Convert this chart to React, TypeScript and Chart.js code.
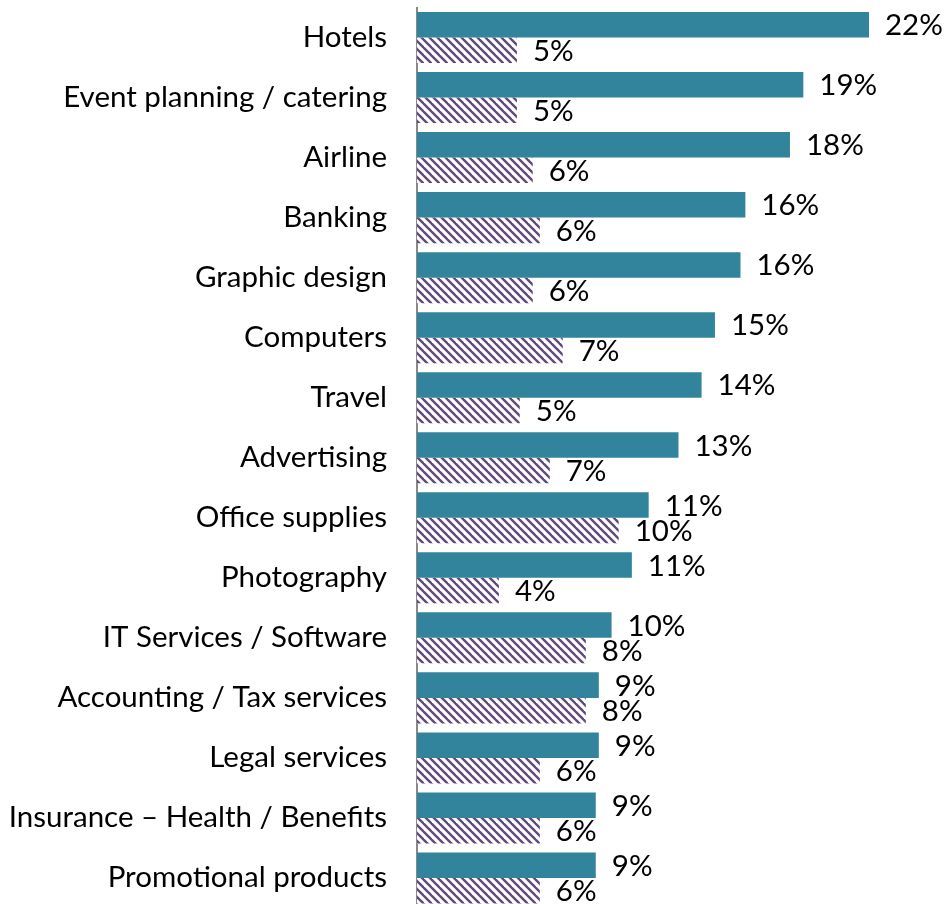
import React, { useEffect, useRef } from "react";
import { Chart, registerables } from "chart.js";

Chart.register(...registerables);

const categories = [
  "Hotels",
  "Event planning / catering",
  "Airline",
  "Banking",
  "Graphic design",
  "Computers",
  "Travel",
  "Advertising",
  "Office supplies",
  "Photography",
  "IT Services / Software",
  "Accounting / Tax services",
  "Legal services",
  "Insurance – Health / Benefits",
  "Promotional products",
];

const seriesA = [22.3, 19.06, 18.4, 16.2, 15.96, 14.7, 14.04, 12.9, 11.43, 10.6, 9.6, 8.97, 8.97, 8.82, 8.82];
const seriesB = [4.93, 4.93, 5.71, 6.06, 5.71, 7.19, 5.07, 6.55, 9.95, 4.04, 8.33, 8.33, 6.06, 6.06, 6.06];

const TEAL = "#31849B";
const PURPLE = "#604A7B";
const FONT = "Lato, 'Open Sans', sans-serif";
const FONT_SIZE = 29.5;

function makeHatch(): CanvasPattern | string {
  const c = document.createElement("canvas");
  c.width = 8;
  c.height = 8;
  const g = c.getContext("2d");
  if (!g) return PURPLE;
  g.fillStyle = "#ffffff";
  g.fillRect(0, 0, 8, 8);
  g.strokeStyle = PURPLE;
  g.lineWidth = 2.4;
  for (const x0 of [-8, 0, 8]) {
    g.beginPath();
    g.moveTo(x0 - 1, -1);
    g.lineTo(x0 + 9, 9);
    g.stroke();
  }
  const p = g.createPattern(c, "repeat");
  return p || PURPLE;
}

const valueLabels = {
  id: "valueLabels",
  afterDatasetsDraw(chart: any) {
    const ctx = chart.ctx;
    ctx.save();
    ctx.font = `${FONT_SIZE}px ${FONT}`;
    ctx.fillStyle = "#000000";
    ctx.textAlign = "left";
    ctx.textBaseline = "middle";
    chart.data.datasets.forEach((ds: any, i: number) => {
      const meta = chart.getDatasetMeta(i);
      meta.data.forEach((bar: any, j: number) => {
        const v = ds.data[j] as number;
        ctx.fillText(`${Math.round(v)}%`, bar.x + 16, bar.y + 1);
      });
    });
    ctx.restore();
  },
};

export default function App() {
  const ref = useRef<HTMLCanvasElement | null>(null);

  useEffect(() => {
    if (!ref.current) return;
    const hatch = makeHatch();
    const chart = new Chart(ref.current, {
      type: "bar",
      data: {
        labels: categories,
        datasets: [
          {
            label: "A",
            data: seriesA,
            backgroundColor: TEAL,
            borderWidth: 0,
            categoryPercentage: 0.85,
            barPercentage: 1,
          },
          {
            label: "B",
            data: seriesB,
            backgroundColor: hatch as any,
            borderWidth: 0,
            categoryPercentage: 0.85,
            barPercentage: 1,
          },
        ],
      },
      options: {
        indexAxis: "y",
        responsive: false,
        animation: false,
        layout: { padding: { top: 7.5, bottom: 0, left: 0, right: 0 } },
        plugins: {
          legend: { display: false },
          tooltip: { enabled: false },
          title: { display: false },
        },
        scales: {
          x: {
            display: false,
            min: 0,
            max: 26,
          },
          y: {
            grid: { display: false, drawTicks: false },
            border: { display: true, color: "#888888", width: 2 },
            ticks: {
              padding: 30,
              color: "#000000",
              font: { family: FONT, size: FONT_SIZE },
              autoSkip: false,
            },
            afterFit(scale: any) {
              scale.width = 417;
              scale.paddingTop = 0;
              scale.paddingBottom = 0;
            },
          },
        },
      },
      plugins: [valueLabels],
    });
    return () => chart.destroy();
  }, []);

  return (
    <div style={{ position: "fixed", left: 0, top: 0, width: 944, height: 908 }}>
      <canvas ref={ref} width={944} height={908} />
    </div>
  );
}
